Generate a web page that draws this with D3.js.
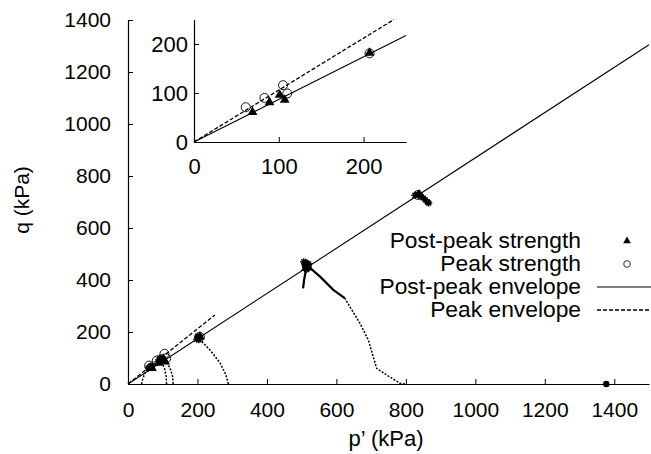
<!DOCTYPE html>
<html>
<head>
<meta charset="utf-8">
<script src="https://cdnjs.cloudflare.com/ajax/libs/d3/7.8.5/d3.min.js"></script>
<style>
  body { margin: 0; background: #fff; }
  text { font-family: "Liberation Sans", Arial, sans-serif; fill: #000; }
</style>
</head>
<body>
<div id="chart"></div>
<script>
var w = 651, h = 454;

// failure points (p', q) in kPa
var peakP = [61, 83, 105, 110, 207, 515, 835];
var peakQ = [71, 90, 116, 99, 181, 455, 727];
var postP = [69, 89, 101, 107, 207, 512, 838];
var postQ = [61, 81, 96, 86, 182, 446, 728];

// envelopes, q = M p'
var postSlope = 0.87;
var peakSlope = 1.06;
var postEnvEnd = 1500;
var peakEnvEnd = 250;

var ticksX = [0, 200, 400, 600, 800, 1000, 1200, 1400];
var ticksY = [0, 200, 400, 600, 800, 1000, 1200, 1400];
var insetTicks = [0, 100, 200];

// stress paths (p', q)
var pathA = [[39, 0], [42, 18], [47, 36], [53, 52], [60, 64]];
var pathB = [[111, 0], [110, 28], [106, 55], [100, 78], [93, 92]];
var pathC = [[130, 0], [128, 32], [121, 62], [110, 85], [99, 99]];
var pathD = [[289, 0], [282, 35], [265, 81], [236, 131], [215, 160], [202, 176]];
var pathE = [[797, 0], [783, 3], [750, 30], [716, 60], [706, 105], [692, 169], [668, 233], [624, 330]];
var pathEtop = [[624, 330], [591, 362], [553, 413], [514, 458]];
var tailE = [[504, 368], [507, 400], [511, 430], [514, 455]];

// scatter near failure
var clusterA = [[58, 62], [63, 66], [66, 70]];
var clusterB = [[86, 86], [90, 92], [94, 97], [98, 101], [101, 95], [96, 88], [92, 100]];
var clusterD = [[198, 172], [202, 178], [206, 182], [204, 170], [200, 184]];
var clusterE = [[508, 462], [512, 468], [516, 456], [520, 462], [511, 450], [506, 470], [518, 448], [514, 440]];
var clusterF = [[826, 726], [834, 730], [842, 722], [850, 716], [856, 708], [862, 700], [866, 696]];
var startF = [[1377, 0]];

var legendLabels = ["Post-peak strength", "Peak strength", "Post-peak envelope", "Peak envelope"];

var svg = d3.select("#chart").append("svg")
  .attr("width", w)
  .attr("height", h);

// main scales
var x = d3.scaleLinear().domain([0, 1500]).range([128, 649]);
var y = d3.scaleLinear().domain([0, 1400]).range([384, 20]);

// inset scales
var xi = d3.scaleLinear().domain([0, 250]).range([194, 406]);
var yi = d3.scaleLinear().domain([0, 250]).range([142, 19.5]);

function drawAxes(g, xs, ys, tx, ty, fs, padX, padY) {
  var ax = g.append("g")
    .attr("transform", "translate(0," + ys(0) + ")")
    .call(d3.axisBottom(xs).tickValues(tx).tickFormat(d3.format("d"))
      .tickSizeInner(-5).tickSizeOuter(0).tickPadding(padX));
  var ay = g.append("g")
    .attr("transform", "translate(" + xs(0) + ",0)")
    .call(d3.axisLeft(ys).tickValues(ty).tickFormat(d3.format("d"))
      .tickSizeInner(-5).tickSizeOuter(0).tickPadding(padY));
  [ax, ay].forEach(function(a) {
    a.select(".domain").attr("stroke", "#000").attr("stroke-width", 1.2);
    a.selectAll(".tick line").attr("stroke", "#000");
    a.selectAll("text").style("font-size", fs + "px").attr("font-family", null);
  });
}

function drawMarkers(g, xs, ys, maxP) {
  var tri = d3.symbol().type(d3.symbolTriangle).size(42);
  var tp = d3.range(postP.length).filter(function(i) { return postP[i] <= maxP; });
  g.selectAll(null).data(tp).enter().append("path")
    .attr("d", tri)
    .attr("transform", function(i) { return "translate(" + xs(postP[i]) + "," + ys(postQ[i]) + ")"; })
    .attr("fill", "#000");
  var cp = d3.range(peakP.length).filter(function(i) { return peakP[i] <= maxP; });
  g.selectAll(null).data(cp).enter().append("circle")
    .attr("cx", function(i) { return xs(peakP[i]); })
    .attr("cy", function(i) { return ys(peakQ[i]); })
    .attr("r", 4.5)
    .attr("fill", "none")
    .attr("stroke", "#000")
    .attr("stroke-width", 0.9);
}

function drawEnvelopes(g, xs, ys, postEnd, peakEnd) {
  g.append("line")
    .attr("x1", xs(0)).attr("y1", ys(0))
    .attr("x2", xs(postEnd)).attr("y2", ys(postEnd * postSlope))
    .attr("stroke", "#000").attr("stroke-width", 1.1);
  g.append("line")
    .attr("x1", xs(0)).attr("y1", ys(0))
    .attr("x2", xs(peakEnd)).attr("y2", ys(peakEnd * peakSlope))
    .attr("stroke", "#000").attr("stroke-width", 1.3)
    .attr("stroke-dasharray", "4,2");
}

var main = svg.append("g");
drawAxes(main, x, y, ticksX, ticksY, 21, 18, 17);

var line = d3.line().x(function(d) { return x(d[0]); }).y(function(d) { return y(d[1]); });

// stress paths
[pathA, pathB, pathC, pathD, pathE].forEach(function(p) {
  main.append("path").attr("d", line(p))
    .attr("fill", "none").attr("stroke", "#000")
    .attr("stroke-width", 1.5).attr("stroke-dasharray", "2,1.5");
});
[pathEtop, tailE].forEach(function(p) {
  main.append("path").attr("d", line(p))
    .attr("fill", "none").attr("stroke", "#000")
    .attr("stroke-width", 2.2);
});

// asterisk-like scatter
function star(s) {
  var a = s, b = s * 0.7;
  return "M" + (-a) + ",0L" + a + ",0M0," + (-a) + "L0," + a +
    "M" + (-b) + "," + (-b) + "L" + b + "," + b + "M" + (-b) + "," + b + "L" + b + "," + (-b);
}
[clusterA, clusterB, clusterD, clusterE, clusterF].forEach(function(c) {
  main.selectAll(null).data(c).enter().append("path")
    .attr("d", star(3.5))
    .attr("transform", function(d) { return "translate(" + x(d[0]) + "," + y(d[1]) + ")"; })
    .attr("stroke", "#000").attr("stroke-width", 1.4).attr("fill", "none");
});
main.selectAll(null).data(startF).enter().append("circle")
  .attr("cx", function(d) { return x(d[0]); })
  .attr("cy", function(d) { return y(d[1]); })
  .attr("r", 3.2).attr("fill", "#000");

drawEnvelopes(main, x, y, postEnvEnd, peakEnvEnd);
drawMarkers(main, x, y, 2000);

// axis titles
svg.append("text")
  .attr("x", 386).attr("y", 446)
  .attr("text-anchor", "middle")
  .style("font-size", "22px")
  .text("p\u2019 (kPa)");
svg.append("text")
  .attr("transform", "translate(29,200) rotate(-90)")
  .attr("text-anchor", "middle")
  .style("font-size", "21px")
  .text("q (kPa)");

// legend
var legY = [248, 271, 294, 317];
svg.selectAll(".leg").data(legendLabels).enter().append("text")
  .attr("class", "leg")
  .attr("x", 581)
  .attr("y", function(d, i) { return legY[i]; })
  .attr("text-anchor", "end")
  .style("font-size", "22.8px")
  .text(function(d) { return d; });
svg.append("path")
  .attr("d", d3.symbol().type(d3.symbolTriangle).size(26))
  .attr("transform", "translate(627," + (legY[0] - 7) + ")")
  .attr("fill", "#000");
svg.append("circle")
  .attr("cx", 627).attr("cy", legY[1] - 7).attr("r", 3.3)
  .attr("fill", "none").attr("stroke", "#000").attr("stroke-width", 0.8);
svg.append("line")
  .attr("x1", 597).attr("x2", 651)
  .attr("y1", legY[2] - 7).attr("y2", legY[2] - 7)
  .attr("stroke", "#000").attr("stroke-width", 1.1);
svg.append("line")
  .attr("x1", 597).attr("x2", 651)
  .attr("y1", legY[3] - 7).attr("y2", legY[3] - 7)
  .attr("stroke", "#000").attr("stroke-width", 1.3)
  .attr("stroke-dasharray", "4,2");

// inset
var inset = svg.append("g");
drawAxes(inset, xi, yi, insetTicks, insetTicks, 22, 16, 6);
drawEnvelopes(inset, xi, yi, 250, 250 / peakSlope);
drawMarkers(inset, xi, yi, 250);
</script>
</body>
</html>
